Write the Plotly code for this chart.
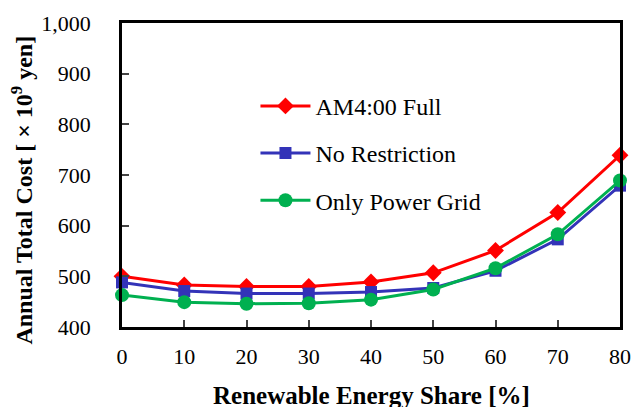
import plotly.graph_objects as go

share = [0, 10, 20, 30, 40, 50, 60, 70, 80]
am4_full = [500, 483, 480, 480, 489, 507, 551, 626, 739]
no_restriction = [488, 471, 466, 466, 469, 477, 511, 573, 679]
only_grid = [463, 449, 446, 447, 454, 474, 516, 583, 689]

series = [
    ("AM4:00 Full", am4_full, "#FF0000", "diamond", 13),
    ("No Restriction", no_restriction, "#3333B8", "square", 12),
    ("Only Power Grid", only_grid, "#00B050", "circle", 14),
]

fig = go.Figure()
for name, vals, color, sym, size in series:
    fig.add_trace(go.Scatter(
        x=share, y=vals, name=name, mode="lines+markers",
        line=dict(color=color, width=3),
        marker=dict(color=color, symbol=sym, size=size),
        legendgroup=name, cliponaxis=False,
    ))

font_family = "Liberation Serif"
fig.update_layout(
    width=635, height=407,
    margin=dict(l=122, r=15, t=23, b=80),
    paper_bgcolor="white", plot_bgcolor="white",
    font=dict(family=font_family, size=22, color="black"),
    showlegend=True,
    legend=dict(
        x=0.268, y=0.80, xanchor="left", yanchor="top",
        bgcolor="rgba(0,0,0,0)", traceorder="grouped", tracegroupgap=13,
        font=dict(size=24, family=font_family), itemwidth=50,
    ),
    xaxis=dict(
        range=[0, 80], tickvals=share, ticks="inside", ticklen=7, tickwidth=2,
        showline=True, linecolor="black", linewidth=2.5, mirror=True,
        showgrid=False, zeroline=False, ticklabelstandoff=8, automargin=False,
    ),
    yaxis=dict(
        range=[400, 1000], dtick=100, tickformat=",d", ticks="inside", ticklen=7,
        tickwidth=2, showline=True, linecolor="black", linewidth=2.5, mirror=True,
        showgrid=False, zeroline=False, ticklabelstandoff=24, automargin=False,
    ),
    annotations=[
        dict(text="<b>Renewable Energy Share [%]</b>", xref="paper", yref="paper",
             x=0.5, y=-0.225, xanchor="center", yanchor="middle", showarrow=False,
             font=dict(size=25, family=font_family)),
        dict(text="<b>Annual Total Cost [ × 10<sup>9</sup> yen]</b>", xref="paper",
             yref="paper", x=-0.2, y=0.45, xanchor="center", yanchor="middle",
             textangle=-90, showarrow=False, font=dict(size=24, family=font_family)),
    ],
)

fig.write_html(
    "out.html",
    config={"displayModeBar": False},
    post_script="document.body.style.margin='0';document.body.style.overflow='hidden';",
)
